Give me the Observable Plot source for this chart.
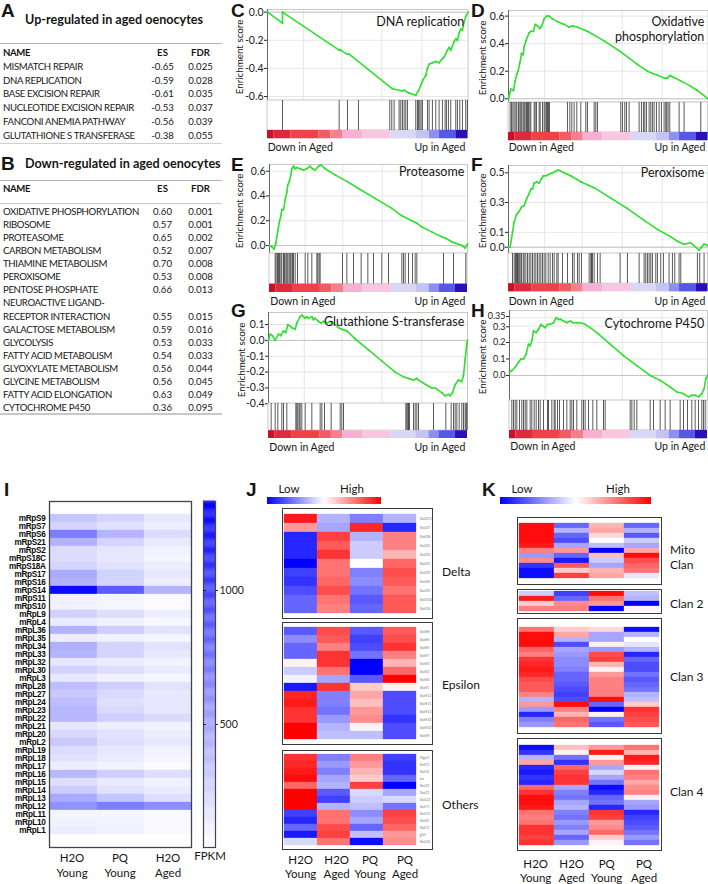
<!DOCTYPE html>
<html>
<head>
<meta charset="utf-8">
<script src="https://cdn.jsdelivr.net/npm/d3@7"></script>
<script src="https://cdn.jsdelivr.net/npm/@observablehq/plot@0.6"></script>
<style>
html,body{margin:0;padding:0;background:#fff;}
#fig{position:relative;width:708px;height:884px;overflow:hidden;font-family:Lato,"Open Sans",sans-serif;color:#161616;}
#fig svg{position:absolute;overflow:visible;}
.t{position:absolute;white-space:pre;line-height:1.2;}
.box{position:absolute;border:1.5px solid #3a3a3a;box-sizing:border-box;}
.rule{position:absolute;height:1.5px;background:#b5b5b5;}
</style>
</head>
<body>
<div id="fig"></div>
<script>
// ---------------- DATA ----------------
// Panel A
const upTitle = "Up-regulated in aged oenocytes";
const upNames = ["MISMATCH REPAIR","DNA REPLICATION","BASE EXCISION REPAIR","NUCLEOTIDE EXCISION REPAIR","FANCONI ANEMIA PATHWAY","GLUTATHIONE S TRANSFERASE"];
const upES = [-0.65,-0.59,-0.61,-0.53,-0.56,-0.38];
const upFDR = [0.025,0.028,0.035,0.037,0.039,0.055];
// Panel B
const downTitle = "Down-regulated in aged oenocytes";
const downNames = ["OXIDATIVE PHOSPHORYLATION","RIBOSOME","PROTEASOME","CARBON METABOLISM","THIAMINE METABOLISM","PEROXISOME","PENTOSE PHOSPHATE","NEUROACTIVE LIGAND-\nRECEPTOR INTERACTION","GALACTOSE METABOLISM","GLYCOLYSIS","FATTY ACID METABOLISM","GLYOXYLATE METABOLISM","GLYCINE METABOLISM","FATTY ACID ELONGATION","CYTOCHROME P450"];
const downES = [0.60,0.57,0.65,0.52,0.70,0.53,0.66,0.55,0.59,0.53,0.54,0.56,0.56,0.63,0.36];
const downFDR = [0.001,0.001,0.002,0.007,0.008,0.008,0.013,0.015,0.016,0.033,0.033,0.044,0.045,0.049,0.095];
const tableHeader = ["NAME","ES","FDR"];

// GSEA panels C-H : running enrichment score [rank, ES] and hit ranks
const gseaTitles = ["DNA replication","Oxidative\nphosphorylation","Proteasome","Peroxisome","Glutathione S-transferase","Cytochrome P450"];
const gseaTotals = [602,599,594,599,597,594];
const esDNA = [[0,0],[45,-0.078],[45,0],[215,-0.27],[218,-0.265],[222,-0.275],[240,-0.30],[245,-0.298],[375,-0.545],[405,-0.56],[410,-0.555],[425,-0.575],[445,-0.59],[453,-0.56],[460,-0.52],[467,-0.48],[475,-0.45],[480,-0.40],[485,-0.37],[495,-0.36],[505,-0.35],[515,-0.36],[525,-0.33],[530,-0.32],[540,-0.27],[545,-0.25],[550,-0.27],[560,-0.21],[565,-0.19],[570,-0.20],[575,-0.15],[580,-0.12],[585,-0.13],[590,-0.07],[595,-0.03],[602,0]];
const hitsDNA = [45,215,240,273,367,373,380,395,400,405,410,415,420,445,450,453,457,461,465,480,485,495,505,515,525,533,537,543,550,565,570,577,585,595,600];
const esOxphos = [[0,0],[5,0.05],[7,0.07],[15,0.06],[20,0.13],[25,0.18],[29,0.2],[35,0.27],[39,0.33],[44,0.32],[47,0.38],[52,0.42],[57,0.45],[62,0.48],[67,0.49],[75,0.49],[80,0.54],[87,0.53],[94,0.51],[100,0.53],[107,0.58],[114,0.6],[122,0.6],[132,0.58],[147,0.56],[167,0.54],[182,0.52],[192,0.53],[207,0.52],[237,0.49],[287,0.42],[337,0.34],[387,0.25],[417,0.2],[447,0.17],[467,0.15],[477,0.15],[485,0.17],[492,0.16],[517,0.13],[547,0.09],[567,0.06],[599,0]];
const hitsOxphos = [5,9,13,17,22,25,30,34,37,40,44,47,50,54,57,60,64,67,77,80,84,92,95,102,107,110,114,117,120,123,177,184,190,197,205,217,232,237,257,262,267,337,342,349,354,362,392,399,405,409,414,422,427,432,437,444,452,459,467,472,475,479,484,512,527,577];
const esProteasome = [[0,0],[7,-0.01],[14,-0.03],[19,0.02],[25,0.12],[29,0.18],[34,0.24],[37,0.29],[42,0.29],[47,0.37],[52,0.43],[55,0.49],[60,0.52],[64,0.57],[67,0.62],[72,0.64],[77,0.62],[82,0.63],[92,0.62],[102,0.61],[112,0.62],[122,0.64],[129,0.62],[137,0.61],[147,0.64],[155,0.65],[167,0.62],[197,0.57],[237,0.51],[267,0.46],[317,0.38],[367,0.3],[397,0.24],[427,0.2],[442,0.18],[457,0.15],[487,0.11],[517,0.07],[527,0.06],[547,0.03],[557,0.02],[577,0],[587,-0.02],[594,0.01]];
const hitsProteasome = [17,20,24,27,30,34,37,42,45,49,52,55,59,62,65,69,72,77,84,107,115,127,142,145,149,152,219,232,252,275,295,312,337,357,397,402,407,417,429,437,442,522,552,589];
const esPeroxisome = [[0,0],[5,0],[12,0.1],[17,0.17],[24,0.22],[32,0.24],[39,0.27],[47,0.28],[55,0.33],[62,0.36],[67,0.39],[72,0.39],[77,0.43],[85,0.44],[92,0.43],[99,0.46],[105,0.48],[112,0.48],[122,0.49],[132,0.5],[142,0.51],[149,0.52],[157,0.51],[167,0.5],[177,0.49],[187,0.48],[217,0.44],[257,0.4],[307,0.33],[357,0.26],[407,0.18],[447,0.12],[487,0.07],[507,0.04],[527,0.02],[547,0.03],[557,0.01],[572,-0.02],[579,0],[587,0.02],[599,0.01]];
const hitsPeroxisome = [12,17,21,24,27,29,32,35,39,44,47,52,57,62,67,72,77,82,87,92,97,102,107,112,119,125,132,137,145,149,162,177,192,197,207,212,219,242,247,249,252,257,267,275,335,357,392,407,412,417,422,427,432,442,447,457,465,482,492,499,512,517,567,574,587];
const esGst = [[0,0],[5,0.04],[12,0.03],[20,0],[30,0.04],[37,0.03],[45,0.06],[52,0.05],[58,0.1],[65,0.09],[70,0.08],[80,0.07],[85,0.11],[95,0.15],[100,0.16],[105,0.15],[110,0.14],[115,0.15],[120,0.14],[130,0.15],[135,0.13],[140,0.14],[150,0.12],[158,0.11],[165,0.12],[175,0.11],[185,0.12],[195,0.11],[210,0.08],[220,0.07],[235,0.06],[260,0.01],[300,-0.06],[340,-0.13],[380,-0.2],[405,-0.23],[420,-0.24],[435,-0.25],[445,-0.24],[450,-0.25],[465,-0.27],[490,-0.30],[500,-0.30],[520,-0.33],[530,-0.35],[540,-0.34],[545,-0.35],[552,-0.33],[560,-0.28],[570,-0.25],[580,-0.26],[585,-0.22],[590,-0.12],[595,-0.02],[597,0]];
const hitsGst = [8,20,28,40,45,55,82,85,88,92,95,100,110,130,155,160,168,188,215,220,225,412,415,418,420,423,435,440,445,450,495,532,548,555,560,565,572,580,585,590,593,596];
const esP450 = [[0,0.02],[7,0.03],[17,0.05],[27,0.08],[34,0.1],[42,0.1],[50,0.13],[57,0.19],[62,0.18],[67,0.21],[72,0.27],[80,0.26],[87,0.28],[94,0.31],[100,0.3],[107,0.29],[114,0.31],[122,0.31],[132,0.32],[140,0.35],[147,0.34],[154,0.34],[162,0.33],[172,0.32],[182,0.33],[192,0.32],[202,0.32],[212,0.32],[227,0.31],[242,0.29],[262,0.26],[302,0.19],[342,0.12],[382,0.06],[422,0],[452,-0.03],[482,-0.07],[502,-0.1],[522,-0.11],[537,-0.13],[547,-0.12],[557,-0.12],[567,-0.13],[577,-0.11],[584,-0.08],[589,-0.02],[594,0]];
const hitsP450 = [7,12,17,22,30,37,42,47,52,62,67,74,80,87,92,102,114,117,127,134,137,144,150,162,172,182,187,192,202,217,222,227,237,250,262,282,287,362,367,374,382,422,432,452,467,482,512,522,534,547,557,567,577,582,587];
// ranked-list colour bar: [start fraction, end fraction, colour]
const rankBar = [[0,0.033,"#c8102a"],[0.033,0.116,"#de2a3c"],[0.116,0.257,"#ee4248"],[0.257,0.316,"#f05c64"],[0.316,0.374,"#f3808c"],[0.374,0.473,"#f6b0d2"],[0.473,0.615,"#f8c6e0"],[0.615,0.74,"#d8d8f6"],[0.74,0.806,"#c4c4f2"],[0.806,0.856,"#8e8ef0"],[0.856,0.939,"#5858e6"],[0.939,1,"#2a10b8"]];
const rankLabels = ["Down in Aged","Up in Aged"];
const gseaYLabel = "Enrichment score";

// Panel I: mitochondrial ribosomal protein FPKM
const riboGenes = ["mRpS9","mRpS7","mRpS6","mRpS21","mRpS2","mRpS18C","mRpS18A","mRpS17","mRpS16","mRpS14","mRpS11","mRpS10","mRpL9","mRpL4","mRpL36","mRpL35","mRpL34","mRpL33","mRpL32","mRpL30","mRpL3","mRpL28","mRpL27","mRpL24","mRpL23","mRpL22","mRpL21","mRpL20","mRpL2","mRpL19","mRpL18","mRpL17","mRpL16","mRpL15","mRpL14","mRpL13","mRpL12","mRpL11","mRpL10","mRpL1"];
const riboConds = ["H2O\nYoung","PQ\nYoung","H2O\nAged"];
const riboH2OYoung = [330,260,700,430,220,220,260,470,430,1280,110,110,270,140,430,130,440,420,170,270,160,370,320,370,400,400,160,240,320,220,190,130,400,210,300,470,600,90,110,130];
const riboPQYoung  = [260,200,420,260,170,160,190,270,260,860,90,90,210,110,290,110,260,260,130,210,110,290,230,210,230,290,130,190,210,160,140,110,290,140,190,330,700,90,100,110];
const riboH2OAged  = [160,130,220,150,110,90,130,160,130,420,70,60,130,80,190,90,190,160,100,140,90,190,160,160,160,230,110,130,160,110,90,70,210,110,140,210,620,70,70,70];
const fpkmTicks = [500,1000];
const fpkmLabel = "FPKM";

// Panels J & K: z-scores (H2O Young, H2O Aged, PQ Young, PQ Aged)
const jkConds = ["H2O\nYoung","H2O\nAged","PQ\nYoung","PQ\nAged"];
const legendLabels = ["Low","High"];
const gstGroups = ["Delta","Epsilon","Others"];
const deltaGenes = ["GstD11","GstD7","GstD8","GstD2","GstD3","GstD1","GstD9","GstD6","GstD5","GstD10","GstD4"];
const deltaZ = [[0.9,-0.3,-0.5,-0.3],[0.4,-0.35,0.85,-0.85],[-0.85,0.75,-0.3,0.5],[-0.85,0.65,-0.2,0.5],[-0.85,0.8,-0.2,0.3],[-1,0.55,0,0.6],[-0.75,0.55,-0.5,0.7],[-0.8,0.6,-0.45,0.65],[-0.7,0.7,-0.55,0.55],[-0.6,0.55,-0.65,0.65],[-0.6,0.5,-0.6,0.65]];
const epsilonGenes = ["GstE8","GstE6","GstE5","GstE7","GstE3","GstE2","GstE4","GstE1","GstE12","GstE11","GstE13","GstE14","GstE10","GstE9"];
const epsilonZ = [[-0.65,0.7,-0.65,0.65],[-0.45,0.65,-0.75,0.7],[-0.6,0.5,-0.7,0.8],[-0.6,0.8,-0.55,0.5],[0.05,0.8,-1,0.3],[-0.2,0.55,-1,0.6],[-0.05,-0.35,-0.65,1],[-0.9,0.8,0.2,0.05],[0.85,-0.5,0.35,-0.7],[0.9,-0.5,0.25,-0.7],[0.8,-0.55,0.4,-0.7],[0.8,-0.4,0.45,-0.8],[1,-0.3,0.05,-0.7],[1,-0.25,-0.25,-0.7]];
const otherGenes = ["Mgst1","GstT3","GstT4","trx","GstZ2","GstZ1","GstO2","GstT1","GstO1","GstS1","GstT2","gfzf","GstO3"];
const otherZ = [[0.8,-0.5,0.5,-0.75],[0.85,-0.4,0.4,-0.8],[0.9,-0.5,0.3,-0.8],[0.95,-0.35,0.2,-0.6],[0.6,-0.3,0.75,-1],[1,-0.65,-0.15,-0.35],[1,-0.75,-0.2,-0.15],[1,-0.3,-0.25,-0.55],[-0.75,0.55,-0.45,0.75],[-0.85,0.55,-0.35,0.7],[-0.6,0.7,-0.6,0.6],[-0.9,0.75,-0.25,0.4],[-0.15,0.55,-0.95,0.45]];
const clanNames = ["Mito\nClan","Clan 2","Clan 3","Clan 4"];
const mitoClanZ = [[0.95,-0.6,0.3,-0.6],[0.95,-0.3,0.35,-0.3],[0.95,-0.6,0.15,-0.65],[0.95,-0.7,0,-0.2],[0.9,-0.35,-0.25,-0.35],[0.5,0.4,-1,0.35],[-0.4,-0.6,0.25,0.95],[0.45,-0.9,-0.2,0.7],[-0.8,0.65,-0.35,0.6],[-0.95,0.2,0.3,0.55],[-0.95,0.75,0.35,-0.1]];
const clan2Z = [[-0.2,-0.75,0.95,-0.25],[0.9,-0.6,0.55,-0.3],[0.2,0.45,0.4,-1],[0.5,0.5,-1,0.05]];
const clan3Z = [[0.55,0.2,0.15,-0.95],[0.95,0.35,-0.35,-0.3],[0.95,-0.3,-0.35,0],[0.95,-0.7,0.05,-0.1],[0.6,-0.35,-0.4,-0.3],[0.5,-0.4,0.7,-0.85],[0.8,-0.45,0.75,-0.6],[0.85,-0.45,0.3,-0.7],[0.9,-0.5,0.05,-0.7],[0.85,-0.6,0.4,-0.55],[0.7,-0.6,0.5,-0.65],[0.65,-0.65,0.5,-0.6],[0.65,-0.7,0.5,-0.55],[0.5,-0.75,0.5,-0.3],[-0.3,-0.7,0.95,-0.25],[0.4,0.95,-0.6,0.2],[-0.4,0.5,-1,0.8],[-0.85,0.3,0.05,0.75],[-0.5,0.6,-0.55,0.7],[-0.4,0.55,-0.65,0.65]];
const clan4Z = [[-0.95,0.25,0.4,0.55],[-0.8,0.05,0.9,0.3],[-0.3,-0.55,0.05,0.9],[0.35,-0.8,0.4,0.85],[-0.85,0.6,-0.35,0.05],[-0.9,0.75,-0.15,0.55],[-0.8,0.8,-0.35,0.5],[-0.85,0.8,-0.55,0.35],[0.6,-0.35,-0.95,0.45],[0.8,-0.5,-0.85,0.5],[0.95,-0.55,-0.6,0.05],[0.95,-0.35,-0.55,-0.35],[0.9,-0.3,-0.85,-0.4],[0.55,-0.5,0.8,-0.85],[0.5,-0.55,0.75,-0.75],[0.55,-0.4,0.4,-0.7],[0.8,-0.5,0.45,-0.65],[0.8,-0.35,0.6,-0.55],[0.75,-0.6,0.2,-0.4],[0.8,-0.4,0.05,-0.55]];

// ---------------- HELPERS ----------------
const fig = document.getElementById("fig");
const FONT = "Lato, 'Open Sans', sans-serif";
const ARIAL = "'Liberation Sans', Arial, sans-serif";
function txt(x, y, s, o = {}) {
  const d = document.createElement("div");
  d.className = "t";
  d.textContent = s;
  d.style.left = x + "px";
  d.style.top = y + "px";
  d.style.fontSize = (o.size || 10) + "px";
  if (o.weight) d.style.fontWeight = o.weight;
  if (o.family) d.style.fontFamily = o.family;
  if (o.ls != null) d.style.letterSpacing = o.ls + "px";
  if (o.lh) d.style.lineHeight = o.lh + "px";
  if (o.align) d.style.textAlign = o.align;
  const ax = o.anchor === "end" ? "-100%" : o.anchor === "middle" ? "-50%" : "0";
  d.style.transform = `translate(${ax},-50%)` + (o.rotate ? ` rotate(${o.rotate}deg)` : "");
  (o.parent || fig).appendChild(d);
  return d;
}
function put(el, x, y, parent) { el.style.left = x + "px"; el.style.top = y + "px"; (parent || fig).appendChild(el); return el; }
function hrule(x, y, w, h, c) { const d = document.createElement("div"); d.className = "rule"; d.style.left = x + "px"; d.style.top = y + "px"; d.style.width = w + "px"; if (h) d.style.height = h + "px"; if (c) d.style.background = c; fig.appendChild(d); }
function letter(ch, x, y) { txt(x, y, ch, {size: 19, weight: "bold", family: ARIAL}); }

// ---------------- TABLES A & B ----------------
const colES = 162.5, colFDR = 200.5, TS = 9.6, TLS = -0.35;
letter("A", 1, 11);
txt(25, 20, upTitle, {size: 12.6, weight: "bold"});
hrule(0, 42.5, 222);
txt(3, 52.7, tableHeader[0], {size: TS, weight: "bold", ls: TLS});
txt(colES, 52.7, tableHeader[1], {size: TS, weight: "bold", anchor: "middle"});
txt(colFDR, 52.7, tableHeader[2], {size: TS, weight: "bold", anchor: "middle"});
upNames.forEach((n, i) => {
  const y = 67 + 13.7 * i;
  txt(3, y, n, {size: TS, ls: TLS});
  txt(colES, y, upES[i].toFixed(2), {size: TS, anchor: "middle"});
  txt(colFDR, y, upFDR[i].toFixed(3), {size: TS, anchor: "middle"});
});
hrule(0, 143, 222, 1, "#d0d0d0");

letter("B", 1, 164);
txt(25, 164.3, downTitle, {size: 12.6, weight: "bold"});
hrule(0, 179.5, 222);
txt(3, 188.5, tableHeader[0], {size: TS, weight: "bold", ls: TLS});
txt(colES, 188.5, tableHeader[1], {size: TS, weight: "bold", anchor: "middle"});
txt(colFDR, 188.5, tableHeader[2], {size: TS, weight: "bold", anchor: "middle"});
hrule(0, 202.5, 222, 1, "#c8c8c8");
{
  let k = 0;
  downNames.forEach((n, i) => {
    const lines = n.split("\n");
    lines.forEach((ln, j) => txt(3, 211.7 + 13.1 * (k + j), ln, {size: TS, ls: TLS}));
    k += lines.length - 1;
    const y = 211.7 + 13.1 * k;
    txt(colES, y, downES[i].toFixed(2), {size: TS, anchor: "middle"});
    txt(colFDR, y, downFDR[i].toFixed(3), {size: TS, anchor: "middle"});
    k += 1;
  });
}
hrule(0, 413, 222, 1.5, "#c8c8c8");

// ---------------- GSEA C-H ----------------
const gseaData = [
  {curve: esDNA, hits: hitsDNA}, {curve: esOxphos, hits: hitsOxphos}, {curve: esProteasome, hits: hitsProteasome},
  {curve: esPeroxisome, hits: hitsPeroxisome}, {curve: esGst, hits: hitsGst}, {curve: esP450, hits: hitsP450}
];
const gseaLayout = [
  {L: "C", lx: 231, ly: 11, x0: 266.7, x1: 467.3, top: 9, bot: 100, barTop: 130, barBot: 138.3, dom: [-0.628, 0.019], ticks: [0, -0.2, -0.4, -0.6], tY: 147, titleY: 20.7, labX: 240, fs: 10.5},
  {L: "D", lx: 471, ly: 11, x0: 507.7, x1: 707.3, top: 10, bot: 101.7, barTop: 131.7, barBot: 140, dom: [-0.025, 0.641], ticks: [0, 0.2, 0.4, 0.6], tY: 146.7, titleY: 29.2, labX: 483, fs: 10.5},
  {L: "E", lx: 231, ly: 165, x0: 269.3, x1: 467.3, top: 164, bot: 253.3, barTop: 284, barBot: 292.3, dom: [-0.067, 0.654], ticks: [0, 0.2, 0.4, 0.6], tY: 300.7, titleY: 171, labX: 240, fs: 10.5},
  {L: "F", lx: 471, ly: 165, x0: 507.7, x1: 707.3, top: 165, bot: 253.3, barTop: 283.5, barBot: 291.7, dom: [-0.044, 0.549], ticks: [0, 0.1, 0.3, 0.5], tY: 300.7, titleY: 172, labX: 483, fs: 10.5},
  {L: "G", lx: 231, ly: 311, x0: 268.3, x1: 467.3, top: 312, bot: 403.3, barTop: 430.5, barBot: 438.3, dom: [-0.4, 0.176], ticks: [0.1, 0, -0.1, -0.2, -0.3, -0.4], tY: 446.7, titleY: 320.7, labX: 242, fs: 10.5},
  {L: "H", lx: 471, ly: 311, x0: 509.3, x1: 707.3, top: 310, bot: 400, barTop: 430, barBot: 438.3, dom: [-0.152, 0.394], ticks: [0.35, 0.3, 0.2, 0.1, 0], tY: 445.7, titleY: 323.3, labX: 483, fs: 9}
];
const GREEN = "#2ee02e";
const tickFmt = t => (Math.abs(t - 0.35) < 1e-9 ? t.toFixed(2) : t.toFixed(1));
gseaLayout.forEach((g, i) => {
  const d = gseaData[i], total = gseaTotals[i];
  const ml = 40, mr = 1;
  const w = g.x1 - g.x0;
  const esH = g.bot - g.top;
  const grid = [0.18, 0.37, 0.57, 0.77].map(f => f * total);
  const axes = g.L === "H"
    ? [Plot.axisY([0.35], {tickSize: 3, tickPadding: 1, label: null, fontSize: g.fs, dy: -1.2, tickFormat: tickFmt}),
       Plot.axisY([0.3], {tickSize: 3, tickPadding: 1, label: null, fontSize: g.fs, dy: 0.8, tickFormat: tickFmt}),
       Plot.axisY([0.2, 0.1, 0], {tickSize: 3, tickPadding: 1, label: null, fontSize: g.fs, tickFormat: tickFmt})]
    : [Plot.axisY(g.ticks, {tickSize: 3, tickPadding: 1, label: null, fontSize: g.fs, tickFormat: tickFmt})];
  const es = Plot.plot({
    width: w + ml + mr, height: esH + 2, marginLeft: ml, marginRight: mr, marginTop: 1, marginBottom: 1,
    style: {fontFamily: FONT, fontSize: g.fs + "px", color: "#222", background: "transparent"},
    x: {domain: [0, total], axis: null},
    y: {domain: g.dom, axis: null},
    marks: [
      Plot.ruleX(grid, {stroke: "#e6e6e6"}),
      Plot.ruleY(g.ticks, {stroke: "#e6e6e6"}),
      Plot.ruleY([0], {stroke: "#c4c4c4"}),
      Plot.frame({stroke: "#c8c8c8"}),
      Plot.ruleX([0], {stroke: "#666"}),
      ...axes,
      Plot.line(d.curve, {x: p => p[0], y: p => p[1], stroke: GREEN, strokeWidth: 1.6}),
      Plot.dot(d.curve, {x: p => p[0], y: p => p[1], fill: GREEN, r: 0.9})
    ]
  });
  put(es, g.x0 - ml, g.top - 1);
  const hH = g.barBot - g.bot;
  const barF = (g.barBot - g.barTop) / hH;
  const hp = Plot.plot({
    width: w, height: hH, margin: 0,
    x: {domain: [0, total], axis: null},
    y: {domain: [0, 1], axis: null},
    marks: [
      Plot.rect([0], {x1: 0, x2: total, y1: barF, y2: 1, stroke: "#c8c8c8", fill: "white"}),
      Plot.ruleX(d.hits, {x: h => h, y1: barF, y2: 1, stroke: "#1a1a1a", strokeWidth: 0.9, strokeOpacity: 0.8}),
      Plot.rect(rankBar, {x1: s => s[0] * total, x2: s => s[1] * total, y1: 0, y2: barF, fill: s => s[2]})
    ]
  });
  put(hp, g.x0, g.bot);
  letter(g.L, g.lx, g.ly);
  txt(g.x1 - 3, g.titleY, gseaTitles[i], {size: 12.5, anchor: "end", align: "right", lh: 15});
  txt(g.labX, (g.top + g.bot) / 2 + 2, gseaYLabel, {size: 9.8, anchor: "middle", rotate: -90});
  txt(g.x0 + 1, g.tY, rankLabels[0], {size: 10.5});
  txt(g.x1 - 2, g.tY, rankLabels[1], {size: 10.5, anchor: "end"});
});

// ---------------- PANEL I ----------------
letter("I", 4, 490);
{
  const data = [];
  riboGenes.forEach((gname, r) => {
    data.push({g: gname, c: riboConds[0], v: riboH2OYoung[r]});
    data.push({g: gname, c: riboConds[1], v: riboPQYoung[r]});
    data.push({g: gname, c: riboConds[2], v: riboH2OAged[r]});
  });
  const blue = {type: "linear", domain: [41, 1332], range: ["#ffffff", "#0000ff"], clamp: true};
  const hm = Plot.plot({
    width: 193, height: 348, marginLeft: 49, marginRight: 2, marginTop: 1, marginBottom: 1,
    style: {fontFamily: ARIAL, fontWeight: "bold", color: "#0a0a0a", letterSpacing: "-0.3px"},
    x: {domain: riboConds, padding: 0, axis: null},
    y: {domain: riboGenes, padding: 0, axis: null},
    color: blue,
    marks: [
      Plot.cell(data, {x: "c", y: "g", fill: "v", stroke: "v", strokeWidth: 0.3, inset: 0}),
      Plot.axisY({tickSize: 0, tickPadding: 4, fontSize: 8.2, fontWeight: "bold", label: null}),
      Plot.frame({stroke: "#444", strokeWidth: 1.3})
    ]
  });
  put(hm, 0, 500);
  riboConds.forEach((c, j) => txt([72, 120, 168][j], 864.5, c, {size: 11.5, anchor: "middle", align: "center", lh: 15}));
  const slices = d3.range(41, 1332, 4);
  const cb = Plot.plot({
    width: 50, height: 346, marginLeft: 0, marginRight: 38, marginTop: 0, marginBottom: 0,
    style: {fontFamily: FONT, fontSize: "10.5px", color: "#222"},
    x: {domain: [0, 1], axis: null},
    y: {domain: [41, 1332], axis: null},
    color: blue,
    marks: [
      Plot.rect(slices, {x1: 0, x2: 1, y1: v => v, y2: v => v + 4.5, fill: v => v}),
      Plot.frame({stroke: "#444", strokeWidth: 1.2}),
      Plot.tickY(fpkmTicks, {y: v => v, stroke: "#222", insetRight: 9}),
      Plot.axisY(fpkmTicks, {anchor: "right", tickSize: 2, tickPadding: 2, fontSize: 10.5, label: null, tickFormat: v => String(v)})
    ]
  });
  put(cb, 203, 501);
  txt(210, 856, fpkmLabel, {size: 11.5, anchor: "middle"});
}

// ---------------- PANELS J & K ----------------
const div = {type: "linear", domain: [-1, 0, 1], range: ["#0000ff", "#ffffff", "#ff0000"]};
function heat(rows, genes, o) {
  const box = document.createElement("div");
  box.className = "box";
  box.style.left = o.left + "px"; box.style.top = o.top + "px";
  box.style.width = o.w + "px"; box.style.height = o.h + "px";
  fig.appendChild(box);
  const data = [];
  rows.forEach((r, i) => r.forEach((v, j) => data.push({g: i, c: j, v})));
  const marks = [Plot.cell(data, {x: "c", y: "g", fill: "v", stroke: "v", strokeWidth: 0.3, inset: 0})];
  if (genes) marks.push(Plot.text(genes, {y: (t, i) => i, text: t => t, frameAnchor: "right", textAnchor: "start", dx: 2, fontSize: 3.6, fill: "#777"}));
  const svg = Plot.plot({
    width: o.w - 3, height: o.h - 3, marginLeft: o.ml, marginRight: o.mr, marginTop: o.mt, marginBottom: o.mb,
    style: {fontFamily: FONT},
    x: {type: "band", domain: [0, 1, 2, 3], padding: 0, axis: null},
    y: {type: "band", domain: d3.range(rows.length), padding: 0, axis: null},
    color: div,
    marks
  });
  put(svg, 0, 0, box);
}
function gradLegend(x, y, w, lowX, highX) {
  const g = document.createElement("div");
  g.style.cssText = `position:absolute;left:${x}px;top:${y}px;width:${w}px;height:7px;background:linear-gradient(to right,#0000ff,#ffffff,#ff0000);`;
  fig.appendChild(g);
  txt(lowX, y - 8, legendLabels[0], {size: 11.5, anchor: "middle"});
  txt(highX, y - 8, legendLabels[1], {size: 11.5, anchor: "middle"});
}
letter("J", 246, 490);
gradLegend(267, 497, 114, 289, 352);
heat(deltaZ, deltaGenes, {left: 282, top: 508, w: 151, h: 111, ml: 0, mr: 13.8, mt: 1, mb: 1});
heat(epsilonZ, epsilonGenes, {left: 282, top: 622, w: 151, h: 123, ml: 0, mr: 13.8, mt: 1, mb: 0.5});
heat(otherZ, otherGenes, {left: 282, top: 750, w: 151, h: 100, ml: 0, mr: 13.8, mt: 1, mb: 0.5});
txt(442, 571.7, gstGroups[0], {size: 12});
txt(442, 685, gstGroups[1], {size: 12});
txt(442, 805, gstGroups[2], {size: 12});
[300.7, 336.7, 370, 405].forEach((x, j) => txt(x, 867, jkConds[j], {size: 11.5, anchor: "middle", align: "center", lh: 14}));

letter("K", 482, 490);
gradLegend(500, 497, 151, 522, 618);
heat(mitoClanZ, null, {left: 516.7, top: 516.7, w: 145, h: 68.3, ml: 1.1, mr: 0.9, mt: 1, mb: 0.5});
heat(clan2Z, null, {left: 516.7, top: 589, w: 145, h: 25, ml: 1.1, mr: 0.9, mt: 0.5, mb: 0});
heat(clan3Z, null, {left: 516.7, top: 618.3, w: 145, h: 116, ml: 1.1, mr: 0.9, mt: 3.5, mb: 1});
heat(clan4Z, null, {left: 516.7, top: 738.3, w: 145, h: 112.7, ml: 1.1, mr: 0.9, mt: 3, mb: 0.5});
txt(670, 557, clanNames[0], {size: 12, lh: 14.5});
txt(670, 604, clanNames[1], {size: 12});
txt(670, 677, clanNames[2], {size: 12});
txt(670, 792, clanNames[3], {size: 12});
[535.7, 571.7, 606.7, 644].forEach((x, j) => txt(x, 871, jkConds[j], {size: 11.5, anchor: "middle", align: "center", lh: 14}));
</script>
</body>
</html>
